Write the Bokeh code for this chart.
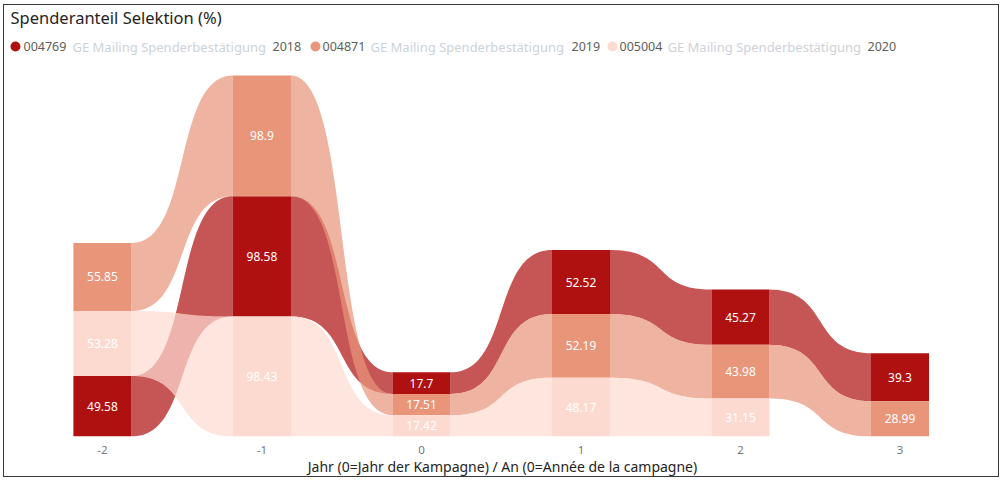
import numpy as np
from bokeh.plotting import figure
from bokeh.models import Range1d, FixedTicker
from bokeh.embed import file_html
from bokeh.resources import INLINE
from bokeh.core.properties import value

# ---------------- data ----------------
years = [-2, -1, 0, 1, 2, 3]
tick_labels = ["-2", "-1", "0", "1", "2", "3"]
series_codes = ["004769", "004871", "005004"]
series_names = ["GE Mailing Spenderbestätigung", "GE Mailing Spenderbestätigung", "GE Mailing Spenderbestätigung"]
series_years = ["2018", "2019", "2020"]
s2018 = [49.58, 98.58, 17.70, 52.52, 45.27, 39.30]
s2019 = [55.85, 98.90, 17.51, 52.19, 43.98, 28.99]
s2020 = [53.28, 98.43, 17.42, 48.17, 31.15, None]
title_text = "Spenderanteil Selektion (%)"
x_label = "Jahr (0=Jahr der Kampagne) / An (0=Année de la campagne)"

series = [s2018, s2019, s2020]
bar_colors = ["#AF1010", "#E8957A", "#FDDAD0"]

# ---------------- stacking (ribbon chart: ascending from the bottom) ----------------
n_cols = len(years)
bottoms = [[None] * n_cols for _ in series]
tops = [[None] * n_cols for _ in series]
for j in range(n_cols):
    present = [(series[k][j], k) for k in range(len(series)) if series[k][j] is not None]
    present.sort()
    acc = 0.0
    for v, k in present:
        bottoms[k][j] = acc
        tops[k][j] = acc + v
        acc += v

HW = 0.182  # half bar width in category units
KC = 0.6    # bezier control factor


def edge(x0, y0, x1, y1, n=60):
    t = np.linspace(0, 1, n)
    dx = x1 - x0
    px = [x0, x0 + KC * dx, x1 - KC * dx, x1]
    py = [y0, y0, y1, y1]
    b = [(1 - t) ** 3, 3 * (1 - t) ** 2 * t, 3 * (1 - t) * t ** 2, t ** 3]
    xs = sum(bi * pi for bi, pi in zip(b, px))
    ys = sum(bi * pi for bi, pi in zip(b, py))
    return list(xs), list(ys)


# ---------------- figure ----------------
p = figure(width=996, height=473,
           x_range=Range1d(-2.614, 3.630), y_range=Range1d(0, 353.3),
           output_backend="svg", toolbar_location=None, y_axis_location=None,
           min_border_left=0, min_border_right=0, min_border_top=0, min_border_bottom=42,
           outline_line_color=None, background_fill_color="white", border_fill_color="white",
           styles={"margin-left": "3px", "margin-top": "4px", "border": "1px solid #3a3a3a"})
p.xgrid.visible = False
p.ygrid.visible = False
p.extra_x_ranges["px"] = Range1d(4, 1000)
p.extra_y_ranges["px"] = Range1d(436, 5)

# ribbons
for k, s in enumerate(series):
    xs_list, ys_list = [], []
    for j in range(n_cols - 1):
        if s[j] is None or s[j + 1] is None:
            continue
        x0 = years[j] + HW
        x1 = years[j + 1] - HW
        tx, ty = edge(x0, tops[k][j], x1, tops[k][j + 1])
        bx, by = edge(x0, bottoms[k][j], x1, bottoms[k][j + 1])
        xs_list.append(tx + bx[::-1])
        ys_list.append(ty + by[::-1])
    p.patches(xs_list, ys_list, fill_color=bar_colors[k], fill_alpha=0.71, line_color=None)

# bars + labels
for k, s in enumerate(series):
    idx = [j for j in range(n_cols) if s[j] is not None]
    left = [years[j] - HW for j in idx]
    right = [years[j] + HW for j in idx]
    bot = [bottoms[k][j] for j in idx]
    top = [tops[k][j] for j in idx]
    p.quad(left=left, right=right, bottom=bot, top=top, fill_color=bar_colors[k],
           line_color=None)
    p.text(x=[years[j] for j in idx], y=[(bottoms[k][j] + tops[k][j]) / 2 for j in idx],
           text=[f"{s[j]:g}" for j in idx], text_align="center", text_baseline="middle",
           text_color="white", text_font=value("Noto Sans"), text_font_size="12px")

# title
p.text(x=[10], y=[17], text=[title_text], x_range_name="px", y_range_name="px",
       text_align="left", text_baseline="middle", text_color="#252423",
       text_font=value("Noto Sans"), text_font_size="16.5px")

# legend (custom, layout positions)
leg_y = 46
dot_x = [15, 315, 612]
code_x = [23, 322, 619]
name_x = [72, 370, 667]
year_x = [272, 571, 867]
p.scatter(x=dot_x, y=[leg_y] * 3, size=10, marker="circle", fill_color=bar_colors,
          line_color=None, x_range_name="px", y_range_name="px")
p.text(x=code_x, y=[leg_y] * 3, text=series_codes, x_range_name="px", y_range_name="px",
       text_align="left", text_baseline="middle", text_color="#605E5C",
       text_font=value("Noto Sans"), text_font_size="12.5px")
p.text(x=name_x, y=[leg_y] * 3, text=series_names, x_range_name="px", y_range_name="px",
       text_align="left", text_baseline="middle", text_color="#CDD2D9",
       text_font=value("Noto Sans"), text_font_size="13px")
p.text(x=year_x, y=[leg_y] * 3, text=series_years, x_range_name="px", y_range_name="px",
       text_align="left", text_baseline="middle", text_color="#605E5C",
       text_font=value("Noto Sans"), text_font_size="12.5px")

# x axis
ax = p.xaxis[0]
ax.ticker = FixedTicker(ticks=years)
ax.major_label_overrides = {y: t for y, t in zip(years, tick_labels)}
ax.axis_line_color = None
ax.major_tick_line_color = None
ax.minor_tick_line_color = None
ax.major_tick_out = 0
ax.major_tick_in = 0
ax.major_label_standoff = 9
ax.major_label_text_font = "Noto Sans"
ax.major_label_text_font_size = "11.5px"
ax.major_label_text_color = "#777777"
ax.axis_label = x_label
ax.axis_label_standoff = 0
ax.axis_label_text_font = "Noto Sans"
ax.axis_label_text_font_size = "14px"
ax.axis_label_text_font_style = "normal"
ax.axis_label_text_color = "#252423"

open("out.html", "w").write(file_html(p, INLINE))
